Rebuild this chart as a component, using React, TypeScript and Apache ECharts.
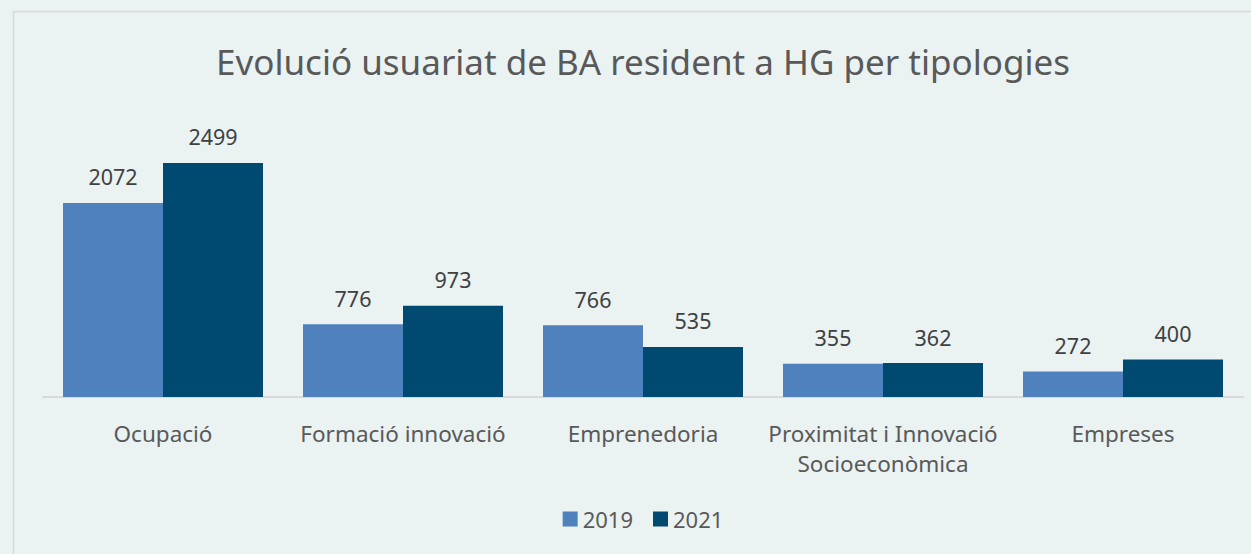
import React, { useEffect, useRef } from "react";
import * as echarts from "echarts";

const categories = ["Ocupació", "Formació innovació", "Emprenedoria", "Proximitat i Innovació\nSocioeconòmica", "Empreses"];
const values2019 = [2072, 776, 766, 355, 272];
const values2021 = [2499, 973, 535, 362, 400];
const seriesNames = ["2019", "2021"];
const titleText = "Evolució usuariat de BA resident a HG per tipologies";

const FONT = "'Noto Sans', 'Open Sans', sans-serif";

export default function App() {
  const ref = useRef<HTMLDivElement>(null);
  useEffect(() => {
    const chart = echarts.init(ref.current!, null, { renderer: "svg" });
    const labelStyle = { show: true, position: "top" as const, distance: 15, color: "#404040", fontSize: 21.5, fontFamily: FONT };
    chart.setOption({
      animation: false,
      backgroundColor: "#eaf2f2",
      graphic: [
        {
          type: "rect",
          shape: { x: 13.5, y: 11.5, width: 1300, height: 560 },
          style: { fill: "none", stroke: "#d9d9d9", lineWidth: 1.5 },
          silent: true,
        },
      ],
      title: {
        text: titleText,
        left: "center",
        top: 39,
        textStyle: { color: "#595959", fontSize: 35, fontWeight: "normal", fontFamily: FONT },
      },
      legend: {
        data: seriesNames,
        bottom: 19,
        left: "center",
        itemWidth: 15,
        itemHeight: 15,
        itemGap: 20,
        icon: "rect",
        textStyle: { color: "#595959", fontSize: 22, fontFamily: FONT },
      },
      grid: { left: 43, right: 43, top: 116, height: 281 },
      xAxis: {
        type: "category",
        data: categories,
        axisLine: { lineStyle: { color: "#d9d9d9", width: 2 } },
        axisTick: { show: false },
        axisLabel: { color: "#595959", fontSize: 22.5, fontFamily: FONT, margin: 21, lineHeight: 30, interval: 0 },
      },
      yAxis: { type: "value", min: 0, max: 3000, show: false, splitLine: { show: false } },
      series: [
        {
          name: seriesNames[0],
          type: "bar",
          data: values2019,
          itemStyle: { color: "#4f81bd" },
          barGap: "0%",
          barCategoryGap: "16.67%",
          label: labelStyle,
        },
        {
          name: seriesNames[1],
          type: "bar",
          data: values2021,
          itemStyle: { color: "#004a72" },
          barGap: "0%",
          barCategoryGap: "16.67%",
          label: labelStyle,
        },
      ],
    });
    return () => chart.dispose();
  }, []);
  return (
    <div style={{ position: "absolute", left: 0, top: 0, width: 1251, height: 554, overflow: "hidden", background: "#eaf2f2" }}>
      <div ref={ref} style={{ width: 1286, height: 554 }} />
    </div>
  );
}
